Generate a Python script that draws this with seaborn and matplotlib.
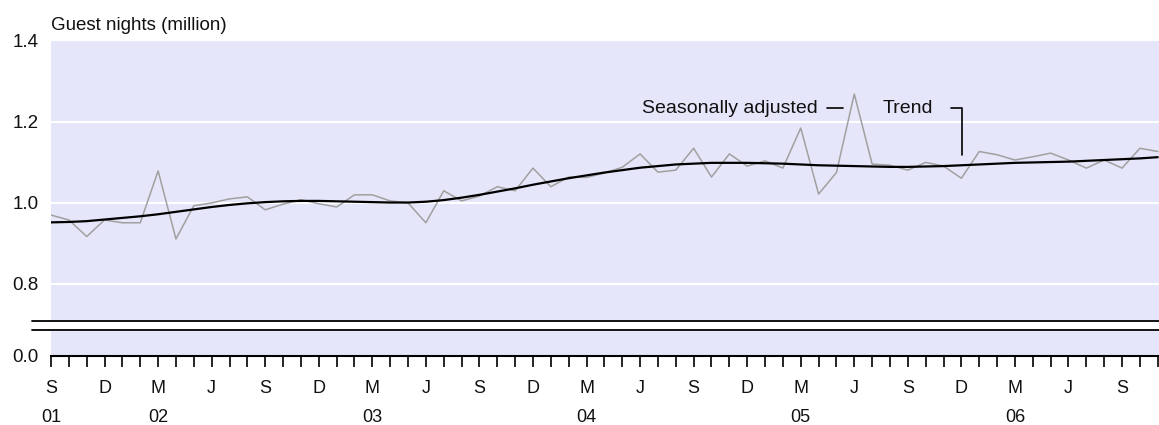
import numpy as np
import pandas as pd
import seaborn as sb
import matplotlib.pyplot as plt

# monthly guest nights (million), Sep 2001 .. Nov 2006
month_letters = ["S", "O", "N", "D", "J", "F", "M", "A", "M", "J", "J", "A"]
year_labels = {0: "01", 6: "02", 18: "03", 30: "04", 42: "05", 54: "06"}

seas_adj = [0.970, 0.958, 0.917, 0.958, 0.951, 0.951, 1.079, 0.911, 0.993, 1.000,
            1.010, 1.015, 0.983, 0.997, 1.008, 0.998, 0.990, 1.020, 1.020, 1.005,
            1.000, 0.951, 1.030, 1.005, 1.017, 1.040, 1.030, 1.086, 1.040, 1.064,
            1.063, 1.074, 1.088, 1.121, 1.076, 1.081, 1.135, 1.064, 1.121, 1.091,
            1.104, 1.086, 1.185, 1.022, 1.075, 1.269, 1.096, 1.093, 1.081, 1.100,
            1.091, 1.061, 1.127, 1.119, 1.106, 1.114, 1.123, 1.106, 1.086, 1.106,
            1.086, 1.135, 1.127]

trend = [0.952, 0.953, 0.955, 0.959, 0.963, 0.967, 0.972, 0.978, 0.984, 0.990,
         0.995, 0.999, 1.002, 1.004, 1.005, 1.005, 1.004, 1.003, 1.002, 1.001,
         1.001, 1.003, 1.007, 1.013, 1.020, 1.028, 1.036, 1.045, 1.053, 1.061,
         1.068, 1.075, 1.081, 1.087, 1.091, 1.095, 1.097, 1.099, 1.099, 1.099,
         1.098, 1.097, 1.095, 1.093, 1.092, 1.091, 1.090, 1.089, 1.089, 1.090,
         1.091, 1.093, 1.095, 1.097, 1.099, 1.100, 1.101, 1.102, 1.104, 1.106,
         1.108, 1.110, 1.113]

y_ticks = [0.622, 0.8, 1.0, 1.2, 1.4]
y_tick_labels = ["0.0", "0.8", "1.0", "1.2", "1.4"]
break_lo, break_hi = 0.685, 0.709

n = len(seas_adj)
df = pd.DataFrame({"month": np.arange(n), "seas": seas_adj, "trend": trend})

sb.set_theme(style="white")
plt.rcParams['font.family'] = ['Liberation Sans', 'DejaVu Sans']

fig = plt.figure(figsize=(11.59, 4.25), dpi=100)
ax = fig.add_axes([0.044, 0.1624, 0.956, 0.7412])
ax.set_facecolor("#E6E6FA")

for v in [0.8, 1.0, 1.2]:
    ax.axhline(v, color="white", lw=1.5, zorder=1)

sb.lineplot(data=df, x="month", y="seas", color="#A0A0A0", lw=1.1, ax=ax, zorder=3)
sb.lineplot(data=df, x="month", y="trend", color="black", lw=1.6, ax=ax, zorder=4)

# axis break
ax.axhspan(break_lo, break_hi, color="white", zorder=2)
for v in [break_lo, break_hi]:
    ax.plot([-0.017, 1.0], [v, v], color="black", lw=1.3,
            transform=ax.get_yaxis_transform(), clip_on=False, zorder=5)

ax.set_xlim(0, 62.07)
ax.set_ylim(0.622, 1.4)
ax.set_yticks(y_ticks)
ax.set_yticklabels(y_tick_labels)

labels = []
for i in range(n):
    if i % 3 == 0:
        lab = month_letters[i % 12]
        if i in year_labels:
            lab += "\n" + year_labels[i]
        labels.append(lab)
    else:
        labels.append("")
ax.set_xticks(range(n))
ax.set_xticklabels(labels, va="top")
for lbl in ax.get_xticklabels():
    lbl.set_linespacing(1.9)

ax.tick_params(axis="x", direction="out", length=8, width=1.2, color="black",
               pad=9.5, labelsize=13, labelcolor="#111111", bottom=True)
ax.tick_params(axis="y", length=0, pad=9, labelsize=13.5, labelcolor="#111111")

for s in ["top", "right", "left"]:
    ax.spines[s].set_visible(False)
ax.spines["bottom"].set_color("black")
ax.spines["bottom"].set_linewidth(1.5)
ax.grid(False)
ax.set_xlabel("")
ax.set_ylabel("")

ax.text(0, 1.035, "Guest nights (million)", transform=ax.transAxes,
        ha="left", va="baseline", fontsize=13.5, color="#111111")

# series labels with leaders
ax.text(42.97, 1.222, "Seasonally adjusted", ha="right", va="baseline",
        fontsize=14, color="#111111")
ax.plot([43.47, 44.37], [1.2346, 1.2346], color="black", lw=1.2)
ax.text(46.6, 1.222, "Trend", ha="left", va="baseline",
        fontsize=14, color="#111111")
ax.plot([50.42, 51.04, 51.04], [1.2346, 1.2346, 1.1185], color="black", lw=1.2)

fig.savefig("out.png", dpi=100)
